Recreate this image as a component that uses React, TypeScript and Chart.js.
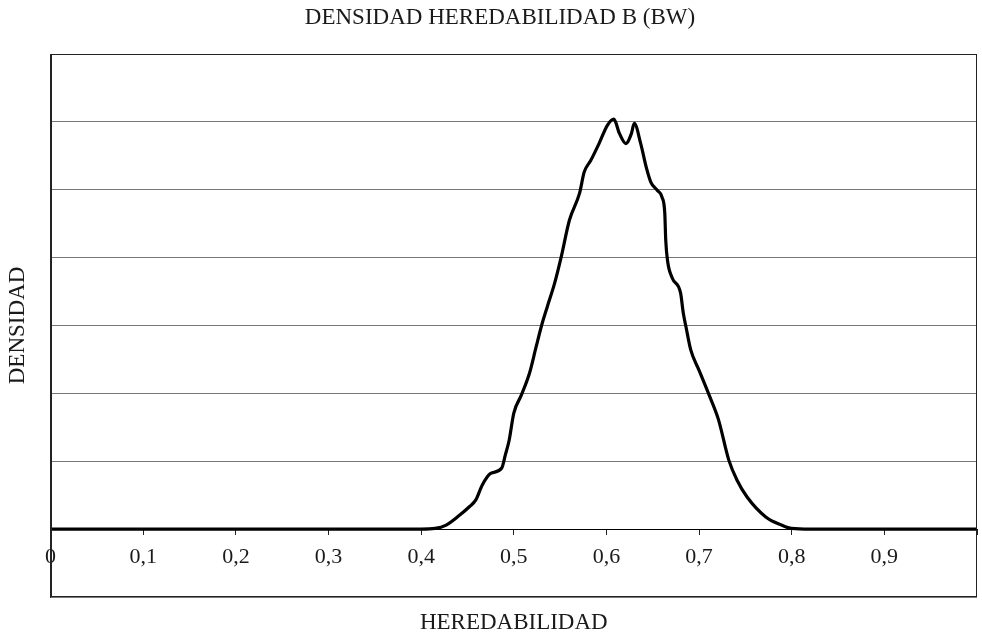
import React, { useEffect, useRef } from 'react';
import { Chart, registerables } from 'chart.js';

Chart.register(...registerables);

const TITLE = 'DENSIDAD HEREDABILIDAD B (BW)';
const X_TITLE = 'HEREDABILIDAD';
const Y_TITLE = 'DENSIDAD';

// heritability values (x) and density (arbitrary units, one unit per gridline)
const heredabilidad = [
  0, 0.1, 0.2, 0.3, 0.4, 0.415, 0.427, 0.441, 0.452, 0.459, 0.466, 0.475, 0.487, 0.491, 0.495,
  0.5, 0.508, 0.517, 0.524, 0.53, 0.536, 0.544, 0.551, 0.56, 0.571, 0.576, 0.583, 0.592, 0.601,
  0.608, 0.614, 0.621, 0.627, 0.63, 0.637, 0.643, 0.648, 0.655, 0.66, 0.663, 0.664, 0.666, 0.671,
  0.68, 0.683, 0.686, 0.691, 0.7, 0.711, 0.721, 0.732, 0.741, 0.752, 0.772, 0.789, 0.8, 0.82, 0.9, 1.0,
];
const densidad = [
  0, 0, 0, 0, 0, 0.01, 0.06, 0.2, 0.33, 0.43, 0.65, 0.82, 0.9, 1.1, 1.31,
  1.71, 1.97, 2.3, 2.68, 3.0, 3.27, 3.62, 4.0, 4.55, 4.95, 5.26, 5.43, 5.68, 5.95,
  6.04, 5.83, 5.68, 5.83, 5.98, 5.68, 5.33, 5.11, 4.99, 4.89, 4.65, 4.26, 3.95, 3.7,
  3.48, 3.18, 2.97, 2.64, 2.34, 1.97, 1.61, 1.02, 0.72, 0.47, 0.18, 0.06, 0.01, 0, 0, 0,
];

const X_MIN = 0;
const X_MAX = 1;
const X_STEP = 0.1;
const Y_MIN = -1;
const Y_MAX = 7;
const Y_STEP = 1;

const FONT_FAMILY = "'Liberation Serif', 'Times New Roman', serif";
const TEXT_COLOR = '#1a1a1a';

const formatTick = (v: number | string) => {
  const n = Number(v);
  if (n >= X_MAX) return '';
  if (n === 0) return '0';
  return n.toFixed(1).replace('.', ',');
};

const framePlugin = {
  id: 'frame',
  afterDraw(chart: any) {
    const { ctx, chartArea: a } = chart;
    ctx.save();
    ctx.strokeStyle = '#222';
    ctx.lineWidth = 1;
    const l = Math.round(a.left) + 0.5;
    const t = Math.round(a.top) + 0.5;
    const r = Math.round(a.right) - 0.5;
    const b = Math.round(a.bottom) - 0.5;
    ctx.strokeRect(l, t, r - l, b - t);
    ctx.restore();
  },
};

const titleShiftPlugin = {
  id: 'titleShift',
  afterLayout(chart: any) {
    const tb = chart.titleBlock;
    if (tb) {
      tb.left += 23;
    }
  },
};

export default function App() {
  const canvasRef = useRef<HTMLCanvasElement | null>(null);

  useEffect(() => {
    if (!canvasRef.current) return;
    const points = heredabilidad.map((x, i) => ({ x, y: densidad[i] }));
    const chart = new Chart(canvasRef.current, {
      type: 'line',
      data: {
        datasets: [
          {
            data: points,
            borderColor: '#000',
            borderWidth: 3.2,
            pointRadius: 0,
            fill: false,
            cubicInterpolationMode: 'monotone',
          },
        ],
      },
      plugins: [framePlugin, titleShiftPlugin],
      options: {
        animation: false,
        responsive: true,
        maintainAspectRatio: false,
        layout: { padding: { left: 0, right: 5, top: 0, bottom: 36 } },
        plugins: {
          legend: { display: false },
          tooltip: { enabled: false },
          title: {
            display: true,
            text: TITLE,
            color: TEXT_COLOR,
            font: { family: FONT_FAMILY, size: 23, weight: 'normal' },
            padding: { top: 4, bottom: 22.4 },
          },
        },
        scales: {
          x: {
            type: 'linear',
            position: { y: 0 },
            min: X_MIN,
            max: X_MAX,
            afterFit: (scale: any) => {
              scale.paddingLeft = 0;
              scale.paddingRight = 0;
            },
            ticks: {
              stepSize: X_STEP,
              autoSkip: false,
              maxRotation: 0,
              padding: 10,
              color: TEXT_COLOR,
              font: { family: FONT_FAMILY, size: 22 },
              callback: (v: any) => formatTick(v),
            },
            grid: {
              drawOnChartArea: false,
              drawTicks: true,
              tickLength: 5,
              color: '#222',
            },
            border: { display: true, color: '#000', width: 1 },
            title: {
              display: true,
              text: X_TITLE,
              color: TEXT_COLOR,
              font: { family: FONT_FAMILY, size: 23 },
              padding: { top: 29, bottom: 0 },
            },
          },
          y: {
            type: 'linear',
            min: Y_MIN,
            max: Y_MAX,
            ticks: { display: false, stepSize: Y_STEP },
            grid: { color: '#777', lineWidth: 1, drawTicks: false },
            border: { display: true, color: '#222', width: 1 },
            title: {
              display: true,
              text: Y_TITLE,
              color: TEXT_COLOR,
              font: { family: FONT_FAMILY, size: 23 },
              padding: { top: 4, bottom: 19 },
            },
          },
        },
      } as any,
    });
    return () => chart.destroy();
  }, []);

  return (
    <div style={{ position: 'absolute', left: 0, top: 0, width: 982, height: 633, background: '#fff' }}>
      <canvas ref={canvasRef} />
    </div>
  );
}
